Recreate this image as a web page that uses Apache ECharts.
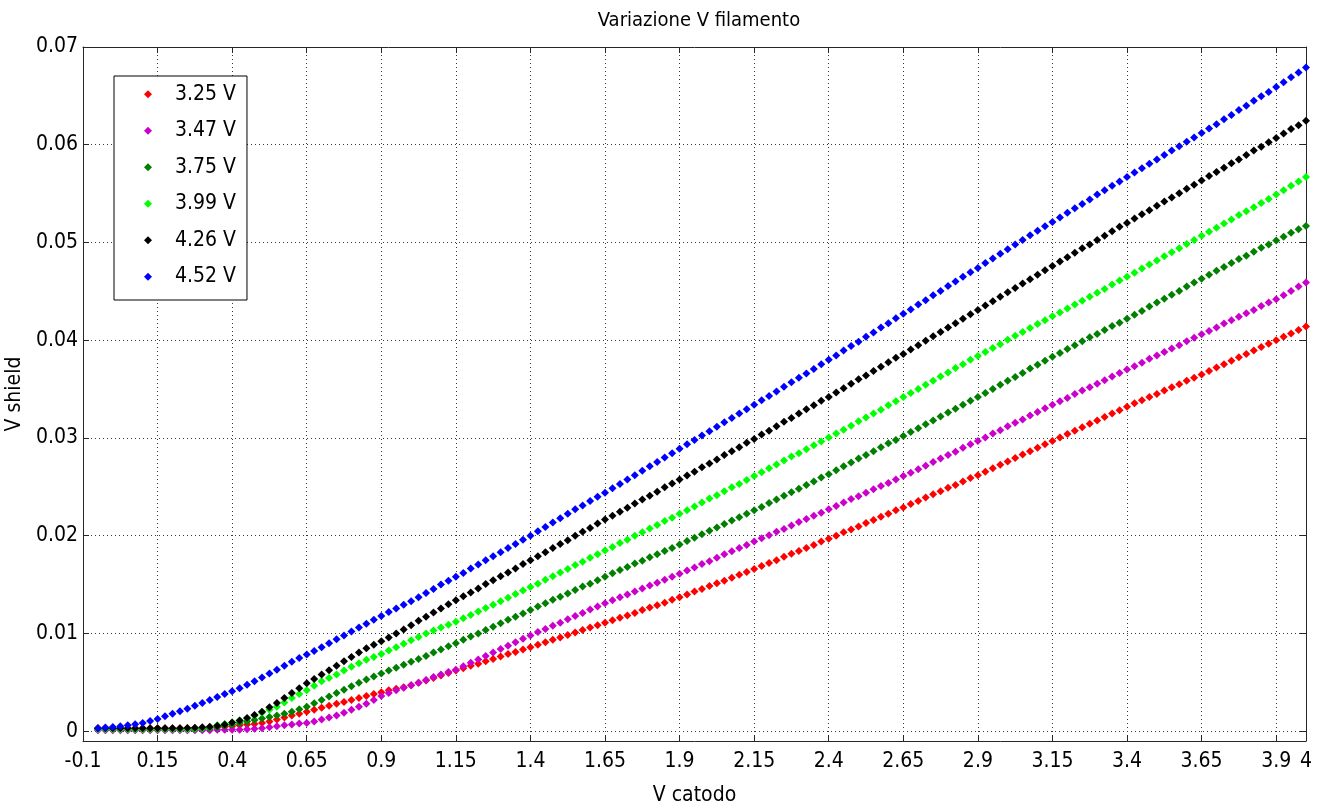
<!DOCTYPE html>
<html>
<head>
<meta charset="utf-8">
<title>Variazione V filamento</title>
<script src="https://cdn.jsdelivr.net/npm/echarts@6/dist/echarts.min.js"></script>
<style>
  html, body { margin: 0; padding: 0; background: #fff; }
  #chart { width: 1327px; height: 807px; }
</style>
</head>
<body>
<div id="chart"></div>
<script>
// Cathode voltage samples (V)
const vCatodo = [
  -0.05,-0.025,0,0.025,0.05,0.075,0.1,0.125,0.15,
  0.175,0.2,0.225,0.25,0.275,0.3,0.325,0.35,0.375,0.4,
  0.425,0.45,0.475,0.5,0.525,0.55,0.575,0.6,0.625,0.65,
  0.675,0.7,0.725,0.75,0.775,0.8,0.825,0.85,0.875,0.9,
  0.925,0.95,0.975,1,1.025,1.05,1.075,1.1,1.125,1.15,
  1.175,1.2,1.225,1.25,1.275,1.3,1.325,1.35,1.375,1.4,
  1.425,1.45,1.475,1.5,1.525,1.55,1.575,1.6,1.625,1.65,
  1.675,1.7,1.725,1.75,1.775,1.8,1.825,1.85,1.875,1.9,
  1.925,1.95,1.975,2,2.025,2.05,2.075,2.1,2.125,2.15,
  2.175,2.2,2.225,2.25,2.275,2.3,2.325,2.35,2.375,2.4,
  2.425,2.45,2.475,2.5,2.525,2.55,2.575,2.6,2.625,2.65,
  2.675,2.7,2.725,2.75,2.775,2.8,2.825,2.85,2.875,2.9,
  2.925,2.95,2.975,3,3.025,3.05,3.075,3.1,3.125,3.15,
  3.175,3.2,3.225,3.25,3.275,3.3,3.325,3.35,3.375,3.4,
  3.425,3.45,3.475,3.5,3.525,3.55,3.575,3.6,3.625,3.65,
  3.675,3.7,3.725,3.75,3.775,3.8,3.825,3.85,3.875,3.9,
  3.925,3.95,3.975,4
];

// Shield voltage (V) for each filament voltage
const v325 = [
  0.0003,0.0003,0.0003,0.0003,0.0003,0.0003,0.0003,0.0003,0.0003,
  0.0003,0.0003,0.0003,0.0003,0.0003,0.0003,0.00035,0.0004,0.00045,0.0005,
  0.0006,0.0007,0.00075,0.00085,0.001,0.0012,0.0014,0.0016,0.0018,0.002,
  0.0022,0.0024,0.0026,0.0028,0.003,0.0032,0.0034,0.0036,0.0038,0.004,
  0.0042,0.00435,0.0045,0.0047,0.00495,0.0052,0.00545,0.0057,0.00595,0.0062,
  0.00645,0.0067,0.0069,0.00715,0.0074,0.00765,0.0079,0.0081,0.00835,0.0086,
  0.00885,0.0091,0.00935,0.0096,0.00985,0.0101,0.01035,0.0106,0.01085,0.0111,
  0.01135,0.0116,0.01185,0.0121,0.0124,0.01265,0.0129,0.01315,0.01345,0.0137,
  0.014,0.0143,0.01455,0.01485,0.01515,0.0154,0.0157,0.016,0.0163,0.0166,
  0.0169,0.0172,0.0175,0.01785,0.01815,0.01845,0.01875,0.01905,0.0194,0.0197,
  0.02,0.02035,0.02065,0.02095,0.0213,0.0216,0.02195,0.02225,0.0226,0.0229,
  0.02325,0.02355,0.0239,0.02425,0.02455,0.0249,0.0252,0.02555,0.0259,0.0262,
  0.02655,0.0269,0.02725,0.0276,0.02795,0.0283,0.02865,0.029,0.02935,0.0297,
  0.03005,0.0304,0.03075,0.0311,0.03145,0.0318,0.03215,0.0325,0.03285,0.0332,
  0.03355,0.03385,0.0342,0.0345,0.03485,0.0352,0.0355,0.03585,0.03615,0.0365,
  0.03685,0.0372,0.03755,0.0379,0.03825,0.0386,0.03895,0.0393,0.03965,0.04,
  0.04035,0.0407,0.04105,0.0414
];
const v347 = [
  0.0001,0.0001,0.0001,0.0001,0.0001,0.0001,0.0001,0.0001,0.0001,
  0.0001,0.0001,0.0001,0.0001,0.0001,0.0001,0.0001,0.00015,0.00015,0.00015,
  0.00015,0.0002,0.00025,0.0003,0.0004,0.0005,0.0006,0.0007,0.0008,0.00085,
  0.001,0.0012,0.0014,0.0016,0.0019,0.0022,0.0025,0.0028,0.0032,0.0036,
  0.0039,0.0042,0.00445,0.0047,0.00495,0.00525,0.00555,0.0058,0.00605,0.0063,
  0.00665,0.007,0.00735,0.0077,0.00805,0.0084,0.00875,0.0091,0.00945,0.0098,
  0.01015,0.01045,0.0108,0.0111,0.01145,0.0118,0.0121,0.01245,0.01275,0.0131,
  0.0134,0.0137,0.014,0.0143,0.0146,0.0149,0.0152,0.0155,0.0158,0.0161,
  0.01645,0.01675,0.0171,0.0174,0.01775,0.0181,0.0184,0.01875,0.01905,0.0194,
  0.01975,0.02005,0.0204,0.0207,0.02105,0.0214,0.0217,0.02205,0.02235,0.0227,
  0.02305,0.0234,0.02375,0.02405,0.0244,0.02475,0.0251,0.0254,0.02575,0.0261,
  0.02645,0.0268,0.02715,0.02755,0.0279,0.02825,0.0286,0.029,0.02935,0.0297,
  0.03005,0.03045,0.0308,0.0312,0.03155,0.0319,0.0323,0.03265,0.03305,0.0334,
  0.03375,0.0341,0.0345,0.03485,0.0352,0.03555,0.0359,0.0363,0.03665,0.037,
  0.03735,0.0377,0.0381,0.03845,0.0388,0.03915,0.0395,0.0399,0.04025,0.0406,
  0.04095,0.0413,0.0417,0.04205,0.0424,0.04275,0.0431,0.0435,0.04385,0.0442,
  0.0446,0.04505,0.0455,0.0459
];
const v375 = [
  0.0002,0.0002,0.0002,0.0002,0.0002,0.0002,0.0002,0.0002,0.0002,
  0.0002,0.0002,0.0002,0.0002,0.0002,0.00025,0.0003,0.0004,0.00055,0.0007,
  0.00085,0.001,0.00115,0.0013,0.00145,0.0016,0.0018,0.002,0.00225,0.0025,
  0.00285,0.0032,0.00355,0.0039,0.00425,0.0046,0.00495,0.0053,0.0056,0.0059,
  0.0062,0.0065,0.0068,0.0071,0.0074,0.0077,0.00805,0.00835,0.0087,0.009,
  0.00935,0.0097,0.01,0.01035,0.0107,0.01105,0.0114,0.0117,0.01205,0.0124,
  0.01275,0.0131,0.01345,0.01375,0.0141,0.01445,0.0148,0.0151,0.01545,0.0158,
  0.01615,0.0165,0.0168,0.01715,0.01745,0.0178,0.0181,0.01845,0.01875,0.0191,
  0.01945,0.0198,0.02015,0.0205,0.02085,0.0212,0.02155,0.0219,0.02225,0.0226,
  0.02295,0.02335,0.0237,0.0241,0.02445,0.0248,0.0252,0.02555,0.02595,0.0263,
  0.0267,0.0271,0.0275,0.0279,0.02825,0.02865,0.02905,0.02945,0.0298,0.0302,
  0.0306,0.031,0.0314,0.0318,0.0322,0.0326,0.033,0.0334,0.0338,0.0342,
  0.0346,0.035,0.03545,0.03585,0.03625,0.03665,0.0371,0.0375,0.0379,0.0383,
  0.0387,0.0391,0.0395,0.0399,0.0403,0.04065,0.04105,0.04145,0.0418,0.0422,
  0.0426,0.043,0.04345,0.04385,0.04425,0.04465,0.04505,0.0455,0.0459,0.0463,
  0.0467,0.0471,0.0475,0.0479,0.0483,0.04865,0.04905,0.04945,0.0498,0.0502,
  0.0506,0.051,0.05135,0.0517
];
const v399 = [
  0.0002,0.0002,0.0002,0.0002,0.0002,0.0002,0.0002,0.0002,0.0002,
  0.0002,0.0002,0.0002,0.0002,0.00025,0.0003,0.0004,0.0006,0.00075,0.0009,
  0.0011,0.0013,0.0016,0.0019,0.0022,0.0025,0.00295,0.0034,0.0038,0.0042,
  0.00465,0.0051,0.00545,0.0058,0.0062,0.0066,0.00695,0.0073,0.0076,0.0079,
  0.00825,0.0086,0.00895,0.0093,0.00965,0.01,0.0103,0.0106,0.0109,0.0112,
  0.01155,0.0119,0.01225,0.0126,0.01295,0.0133,0.01365,0.01405,0.0144,0.01475,
  0.0151,0.0155,0.01585,0.01625,0.0166,0.017,0.01735,0.01775,0.0181,0.0185,
  0.01885,0.01925,0.0196,0.02,0.02035,0.02075,0.0211,0.0215,0.02185,0.02225,
  0.0226,0.023,0.0234,0.0238,0.02415,0.02455,0.02495,0.0253,0.0257,0.0261,
  0.0265,0.0269,0.0273,0.0277,0.0281,0.02845,0.02885,0.02925,0.02965,0.03005,
  0.03045,0.03085,0.03125,0.0317,0.0321,0.0325,0.0329,0.03335,0.03375,0.0342,
  0.0346,0.035,0.03545,0.03585,0.0363,0.0367,0.03715,0.03755,0.038,0.0384,
  0.0388,0.0392,0.0396,0.04005,0.04045,0.04085,0.04125,0.04165,0.04205,0.04245,
  0.04285,0.04325,0.04365,0.04405,0.04445,0.04485,0.04525,0.0457,0.0461,0.0465,
  0.0469,0.04735,0.04775,0.04815,0.0486,0.049,0.0494,0.04985,0.05025,0.0507,
  0.0511,0.0515,0.05195,0.05235,0.0528,0.0532,0.0536,0.05405,0.05445,0.0549,
  0.05535,0.0558,0.05625,0.0567
];
const v426 = [
  0.0003,0.0003,0.0003,0.0003,0.0003,0.0003,0.0003,0.0003,0.0003,
  0.0003,0.0003,0.0003,0.00032,0.00035,0.0004,0.00045,0.00055,0.0007,0.0009,
  0.0011,0.00135,0.00165,0.002,0.00245,0.0029,0.0034,0.0039,0.0044,0.0049,
  0.00535,0.0058,0.00625,0.0067,0.00715,0.0076,0.00805,0.0085,0.00885,0.0092,
  0.0096,0.01,0.0104,0.01085,0.0113,0.0117,0.01215,0.01255,0.013,0.0134,
  0.0138,0.0142,0.0146,0.01505,0.01545,0.01585,0.01625,0.01665,0.0171,0.0175,
  0.0179,0.0183,0.01875,0.01915,0.01955,0.02,0.0204,0.0208,0.02125,0.02165,
  0.02205,0.02245,0.02285,0.0233,0.0237,0.0241,0.0245,0.02495,0.02535,0.02575,
  0.02615,0.02655,0.027,0.0274,0.0278,0.02825,0.02865,0.02905,0.0295,0.0299,
  0.03035,0.03075,0.0312,0.03165,0.03205,0.0325,0.03295,0.03335,0.0338,0.0342,
  0.03465,0.0351,0.03555,0.036,0.0364,0.03685,0.0373,0.03775,0.0382,0.0386,
  0.03905,0.0395,0.03995,0.0404,0.04085,0.0413,0.04175,0.0422,0.04265,0.0431,
  0.04355,0.044,0.04445,0.0449,0.04535,0.0458,0.04625,0.0467,0.04715,0.0476,
  0.04805,0.0485,0.04895,0.0494,0.0498,0.05025,0.0507,0.05115,0.0516,0.052,
  0.05245,0.0529,0.0533,0.05375,0.0542,0.0546,0.05505,0.0555,0.0559,0.05635,
  0.0568,0.0572,0.05765,0.0581,0.0585,0.05895,0.0594,0.0598,0.06025,0.0607,
  0.06115,0.0616,0.062,0.06245
];
const v452 = [
  0.0003,0.00037,0.00044,0.00052,0.0006,0.00072,0.00085,0.00105,0.00125,
  0.00152,0.0018,0.00205,0.0023,0.0026,0.0029,0.0032,0.0035,0.0038,0.0041,
  0.0044,0.00475,0.0051,0.0055,0.0059,0.0063,0.0067,0.0071,0.0075,0.00785,
  0.0082,0.0086,0.009,0.0094,0.0098,0.0102,0.0106,0.011,0.0114,0.0118,
  0.0122,0.01255,0.01295,0.0133,0.0137,0.01415,0.01455,0.015,0.0154,0.0158,
  0.0162,0.01665,0.01705,0.0175,0.0179,0.0183,0.01875,0.01915,0.0196,0.02,
  0.02045,0.0209,0.02135,0.0218,0.02225,0.0227,0.0231,0.02355,0.024,0.0244,
  0.02485,0.0253,0.02575,0.0262,0.02665,0.0271,0.02755,0.028,0.02845,0.0289,
  0.02935,0.0298,0.03025,0.0307,0.03115,0.0316,0.03205,0.0325,0.03295,0.0334,
  0.03385,0.0343,0.03475,0.03525,0.0357,0.03615,0.0366,0.03705,0.03755,0.038,
  0.03845,0.03895,0.0394,0.03985,0.04035,0.0408,0.0413,0.04175,0.04225,0.0427,
  0.04315,0.04365,0.0441,0.0446,0.04505,0.04555,0.046,0.0465,0.04695,0.0474,
  0.0479,0.04835,0.04885,0.0493,0.0498,0.05025,0.05075,0.0512,0.05165,0.0521,
  0.05255,0.05305,0.0535,0.05395,0.0544,0.0549,0.05535,0.0558,0.05625,0.0567,
  0.05715,0.0576,0.05805,0.0585,0.05895,0.0594,0.05985,0.0603,0.06075,0.0612,
  0.06165,0.0621,0.0626,0.06305,0.06355,0.064,0.0645,0.06495,0.0654,0.0659,
  0.0664,0.0669,0.0674,0.0679
];

const seriesNames = ['3.25 V', '3.47 V', '3.75 V', '3.99 V', '4.26 V', '4.52 V'];
const seriesValues = [v325, v347, v375, v399, v426, v452];
const seriesColors = ['#ff0000', '#cc00cc', '#007f00', '#00ff00', '#000000', '#0000ff'];

// Axis tick positions
const xTicks = [-0.1, 0.15, 0.4, 0.65, 0.9, 1.15, 1.4, 1.65, 1.9, 2.15, 2.4, 2.65, 2.9, 3.15, 3.4, 3.65, 3.9, 4];
const yTicks = [0, 0.01, 0.02, 0.03, 0.04, 0.05, 0.06, 0.07];

const FONT = "'DejaVu Sans Condensed', 'DejaVu Sans', sans-serif";
const AXIS_COLOR = '#262626';
const GRID_DOTS = { type: [1, 3], color: '#3a3a3a', width: 1 };
// Diamond outline as a path so the legend keeps its proportions
const DIAMOND = 'path://M0,-1L1,0L0,1L-1,0Z';

const chart = echarts.init(document.getElementById('chart'), null, { renderer: 'canvas' });

function boxAxis(extra) {
  return Object.assign({
    type: 'value',
    axisLine: { show: true, onZero: false, lineStyle: { color: AXIS_COLOR, width: 1 } },
    axisTick: { show: true, inside: true, length: 6, lineStyle: { color: AXIS_COLOR, width: 1 } },
    axisLabel: { show: false },
    splitLine: { show: false }
  }, extra);
}

const option = {
  animation: false,
  backgroundColor: '#ffffff',
  title: {
    text: 'Variazione V filamento',
    left: 694,
    top: 6,
    textAlign: 'center',
    textStyle: { fontFamily: FONT, fontSize: 20, fontWeight: 'normal', color: '#000' }
  },
  grid: { left: 83, right: 21, top: 47, bottom: 66, containLabel: false, outerBoundsMode: 'none' },
  legend: {
    orient: 'vertical',
    left: 114,
    top: 76,
    padding: [6, 11, 11, 30],
    icon: DIAMOND,
    symbolKeepAspect: true,
    itemWidth: 44,
    itemHeight: 8,
    itemGap: 12,
    backgroundColor: '#ffffff',
    borderColor: '#000000',
    borderWidth: 1,
    borderRadius: 0,
    textStyle: { fontFamily: FONT, fontSize: 21, lineHeight: 24.5, color: '#000' },
    data: seriesNames
  },
  xAxis: [
    boxAxis({
      min: -0.1, max: 4, position: 'bottom',
      axisTick: { show: true, inside: true, length: 6, customValues: xTicks, lineStyle: { color: AXIS_COLOR, width: 1 } },
      axisLabel: {
        show: true, customValues: xTicks, margin: 10,
        fontFamily: FONT, fontSize: 21, color: '#000',
        formatter: v => String(v)
      },
      splitLine: { show: true, lineStyle: GRID_DOTS },
      name: 'V catodo',
      nameLocation: 'middle',
      nameGap: 44,
      nameTextStyle: { fontFamily: FONT, fontSize: 21, color: '#000' }
    }),
    boxAxis({
      min: -0.1, max: 4, position: 'top',
      axisTick: { show: true, inside: true, length: 6, customValues: xTicks, lineStyle: { color: AXIS_COLOR, width: 1 } }
    })
  ],
  yAxis: [
    boxAxis({
      min: -0.001, max: 0.07, position: 'left',
      axisTick: { show: true, inside: true, length: 6, customValues: yTicks, lineStyle: { color: AXIS_COLOR, width: 1 } },
      axisLabel: {
        show: true, customValues: yTicks, margin: 5,
        fontFamily: FONT, fontSize: 21, color: '#000',
        formatter: v => String(v)
      },
      splitLine: { show: true, lineStyle: GRID_DOTS },
      name: 'V shield',
      nameLocation: 'middle',
      nameGap: 53,
      nameTextStyle: { fontFamily: FONT, fontSize: 21, color: '#000' }
    }),
    boxAxis({
      min: -0.001, max: 0.07, position: 'right',
      axisTick: { show: true, inside: true, length: 6, customValues: yTicks, lineStyle: { color: AXIS_COLOR, width: 1 } }
    })
  ],
  series: seriesNames.map((name, k) => ({
    name: name,
    type: 'scatter',
    xAxisIndex: 0,
    yAxisIndex: 0,
    symbol: 'diamond',
    symbolSize: 8,
    itemStyle: { color: seriesColors[k], opacity: 1 },
    emphasis: { disabled: true },
    data: vCatodo.map((x, i) => [x, seriesValues[k][i]])
  }))
};

chart.setOption(option);
</script>
</body>
</html>
